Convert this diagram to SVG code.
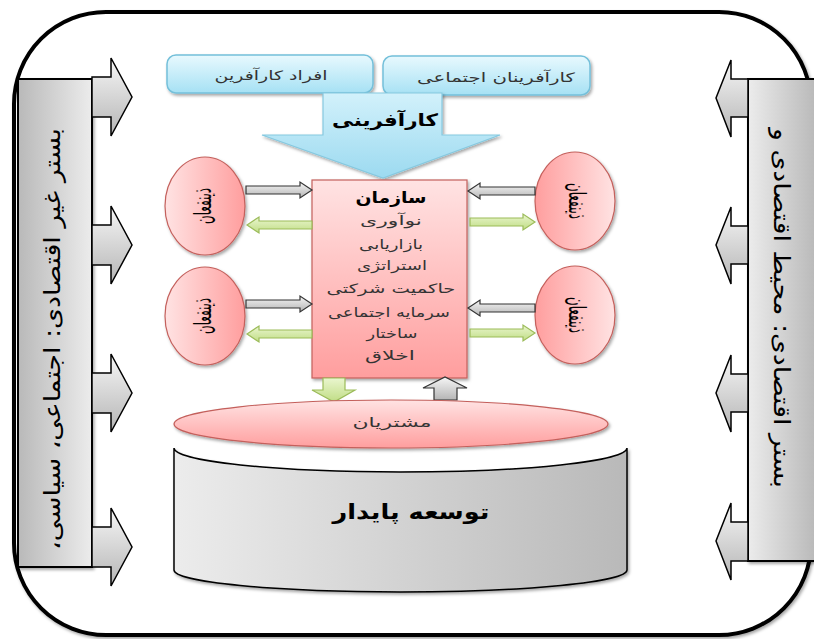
<svg xmlns="http://www.w3.org/2000/svg" width="814" height="639" viewBox="0 0 814 639">
<defs>
<linearGradient id="gBlue" x1="0" y1="0" x2="0" y2="1"><stop offset="0" stop-color="#e8f9fe"/><stop offset="1" stop-color="#a6e1f4"/></linearGradient>
<linearGradient id="gBlueArrow" x1="0" y1="0" x2="0" y2="1"><stop offset="0" stop-color="#d2f1fb"/><stop offset="1" stop-color="#9cdaf0"/></linearGradient>
<linearGradient id="gPinkV" x1="0" y1="0" x2="0" y2="1"><stop offset="0" stop-color="#ffe3e3"/><stop offset="1" stop-color="#ff9e9e"/></linearGradient>
<linearGradient id="gPinkL" x1="0" y1="0" x2="1" y2="0"><stop offset="0" stop-color="#ffe3e3"/><stop offset="1" stop-color="#ff9e9e"/></linearGradient>
<linearGradient id="gPinkR" x1="1" y1="0" x2="0" y2="0"><stop offset="0" stop-color="#ffe3e3"/><stop offset="1" stop-color="#ff9e9e"/></linearGradient>
<linearGradient id="gGrayL" x1="0" y1="0" x2="1" y2="0"><stop offset="0" stop-color="#ececec"/><stop offset="1" stop-color="#b9b9b9"/></linearGradient>
<linearGradient id="gGrayR" x1="1" y1="0" x2="0" y2="0"><stop offset="0" stop-color="#ececec"/><stop offset="1" stop-color="#b9b9b9"/></linearGradient>
<linearGradient id="gGrayV" x1="0" y1="0" x2="0" y2="1"><stop offset="0" stop-color="#f6f6f6"/><stop offset="1" stop-color="#b5b5b5"/></linearGradient>
<linearGradient id="gGreen" x1="0" y1="0" x2="0" y2="1"><stop offset="0" stop-color="#eaf6cf"/><stop offset="1" stop-color="#c0dd85"/></linearGradient>
<filter id="sh" x="-10%" y="-10%" width="130%" height="130%"><feDropShadow dx="1.5" dy="2" stdDeviation="1.5" flood-color="#000" flood-opacity="0.35"/></filter>
</defs>
<style>
.fa{font-family:"DejaVu Sans","Noto Sans",sans-serif;direction:rtl;unicode-bidi:embed;}
.box{fill:url(#gBlue);stroke:#74c0da;stroke-width:1.5;}
.pink{stroke:#c4605c;stroke-width:1.2;}
.bar{stroke:#000;stroke-width:2;}
.sidearrow{stroke:#000;stroke-width:1.5;}
.garrow{fill:url(#gGrayV);stroke:#333;stroke-width:1.2;}
.grarrow{fill:url(#gGreen);stroke:#9bbb59;stroke-width:1.2;}
.t13{font-size:13px;fill:#333;text-anchor:middle;}
.stake{font-size:24px;fill:#000;text-anchor:middle;}
</style>
<rect width="814" height="639" fill="#fff"/>
<g id="frame"><rect x="14" y="12" width="797" height="623" rx="92" ry="92" fill="#fff" stroke="#000" stroke-width="4" filter="url(#sh)"/></g>

<g id="left-bar">
<rect class="bar" x="18" y="79" width="74" height="488" fill="url(#gGrayR)" filter="url(#sh)"/>
<text class="fa" direction="rtl" transform="translate(52,339) rotate(-90)" dy="8" text-anchor="middle" font-size="23" fill="#000" textLength="422" lengthAdjust="spacingAndGlyphs">بستر غیر اقتصادی: اجتماعی، سیاسی،</text>
</g>
<g id="right-bar">
<rect class="bar" x="748" y="79" width="68" height="482" fill="url(#gGrayL)" filter="url(#sh)"/>
<text class="fa" direction="rtl" transform="translate(782,308) rotate(90)" dy="8" text-anchor="middle" font-size="23" fill="#000" textLength="360" lengthAdjust="spacingAndGlyphs">بستر اقتصادی: محیط اقتصادی و</text>
</g>

<g id="side-arrows" class="sidearrow">
<path d="M92,77 H111 V58 L132,97 L111,136 V117 H92 Z" fill="url(#gGrayV)"/>
<path d="M92,225 H111 V206 L132,245 L111,284 V265 H92 Z" fill="url(#gGrayV)"/>
<path d="M92,373 H111 V354 L132,393 L111,432 V413 H92 Z" fill="url(#gGrayV)"/>
<path d="M92,527 H111 V508 L132,547 L111,586 V567 H92 Z" fill="url(#gGrayV)"/>
<path d="M748,79 H731 V60 L716,98 L731,137 V117 H748 Z" fill="url(#gGrayV)"/>
<path d="M748,226 H731 V207 L716,245 L731,284 V264 H748 Z" fill="url(#gGrayV)"/>
<path d="M748,374 H731 V355 L716,393 L731,432 V412 H748 Z" fill="url(#gGrayV)"/>
<path d="M748,522 H731 V503 L716,541 L731,580 V561 H748 Z" fill="url(#gGrayV)"/>
</g>

<g id="box-afrad">
<rect class="box" x="167" y="55" width="206" height="38" rx="9" filter="url(#sh)"/>
<text class="fa t13" x="271" y="80" textLength="113" lengthAdjust="spacingAndGlyphs">افراد کارآفرین</text>
</g>
<g id="box-social">
<rect class="box" x="383" y="56" width="207" height="39" rx="9" filter="url(#sh)"/>
<text class="fa t13" x="496" y="82" textLength="158" lengthAdjust="spacingAndGlyphs">کارآفرینان اجتماعی</text>
</g>
<g id="entrepreneurship">
<path d="M323,93 H442 V135 H500 L383,178 L262,135 H323 Z" fill="url(#gBlueArrow)" stroke="#86c9e0" stroke-width="1.2" filter="url(#sh)"/>
<text class="fa" x="385" y="126" text-anchor="middle" font-size="17" font-weight="bold" fill="#000" textLength="106" lengthAdjust="spacingAndGlyphs">کارآفرینی</text>
</g>

<g id="organization">
<rect class="pink" x="312" y="180" width="155" height="198" fill="url(#gPinkV)" filter="url(#sh)"/>
<text class="fa" x="391" y="203" text-anchor="middle" font-size="16" font-weight="bold" fill="#000" textLength="71" lengthAdjust="spacingAndGlyphs">سازمان</text>
<text class="fa t13" x="391" y="225" textLength="62" lengthAdjust="spacingAndGlyphs">نوآوری</text>
<text class="fa t13" x="391" y="249" textLength="64" lengthAdjust="spacingAndGlyphs">بازاریابی</text>
<text class="fa t13" x="392" y="270" textLength="70" lengthAdjust="spacingAndGlyphs">استراتژی</text>
<text class="fa t13" x="391" y="293" textLength="129" lengthAdjust="spacingAndGlyphs">حاکمیت شرکتی</text>
<text class="fa t13" x="389" y="317" textLength="122" lengthAdjust="spacingAndGlyphs">سرمایه اجتماعی</text>
<text class="fa t13" x="392" y="338" textLength="51" lengthAdjust="spacingAndGlyphs">ساختار</text>
<text class="fa t13" x="390" y="360" textLength="50" lengthAdjust="spacingAndGlyphs">اخلاق</text>
</g>

<g id="stakeholder-lt">
<ellipse class="pink" cx="205" cy="206" rx="40" ry="49" fill="url(#gPinkL)" filter="url(#sh)"/>
<text class="fa stake" transform="translate(204,206) rotate(-90)" dy="7" textLength="36" lengthAdjust="spacingAndGlyphs">ذینفعان</text>
</g>
<g id="stakeholder-lb">
<ellipse class="pink" cx="205" cy="316" rx="40" ry="49" fill="url(#gPinkL)" filter="url(#sh)"/>
<text class="fa stake" transform="translate(204,316) rotate(-90)" dy="7" textLength="36" lengthAdjust="spacingAndGlyphs">ذینفعان</text>
</g>
<g id="stakeholder-rt">
<ellipse class="pink" cx="575" cy="201" rx="40" ry="49" fill="url(#gPinkR)" filter="url(#sh)"/>
<text class="fa stake" transform="translate(576,201) rotate(90)" dy="7" textLength="36" lengthAdjust="spacingAndGlyphs">ذینفعان</text>
</g>
<g id="stakeholder-rb">
<ellipse class="pink" cx="575" cy="315" rx="40" ry="49" fill="url(#gPinkR)" filter="url(#sh)"/>
<text class="fa stake" transform="translate(576,315) rotate(90)" dy="7" textLength="36" lengthAdjust="spacingAndGlyphs">ذینفعان</text>
</g>

<g id="connectors">
<path class="garrow" d="M246,186 H300 V182 L312,190 L300,198 V194 H246 Z"/>
<path class="grarrow" d="M312,221 H259 V217 L247,225 L259,233 V229 H312 Z"/>
<path class="garrow" d="M246,300 H300 V296 L312,304 L300,312 V308 H246 Z"/>
<path class="grarrow" d="M312,330 H259 V326 L247,334 L259,342 V338 H312 Z"/>
<path class="garrow" d="M535,187 H480 V183 L468,191 L480,199 V195 H535 Z"/>
<path class="grarrow" d="M470,218 H523 V214 L535,222 L523,230 V226 H470 Z"/>
<path class="garrow" d="M535,304 H480 V300 L468,308 L480,316 V312 H535 Z"/>
<path class="grarrow" d="M470,329 H523 V325 L535,333 L523,341 V337 H470 Z"/>
<path class="grarrow" d="M323,378 H345 V390 H355 L334,402 L312,390 H323 Z"/>
<path class="garrow" d="M434,400 V388 H423 L445,377 L467,388 H457 V400 Z"/>
</g>

<g id="customers">
<ellipse class="pink" cx="391" cy="424" rx="217" ry="24" fill="url(#gPinkV)" filter="url(#sh)"/>
<text class="fa t13" x="392" y="427" font-size="14" textLength="79" lengthAdjust="spacingAndGlyphs">مشتریان</text>
</g>
<g id="sustainable">
<path d="M174,448 A226.5 24 0 0 0 627,448 V570 A226.5 22 0 0 1 174,570 Z" fill="url(#gGrayL)" stroke="#000" stroke-width="1.5" filter="url(#sh)"/>
<text class="fa" x="411" y="519" text-anchor="middle" font-size="21" font-weight="bold" fill="#000" textLength="157" lengthAdjust="spacingAndGlyphs">توسعه پایدار</text>
</g>
</svg>
